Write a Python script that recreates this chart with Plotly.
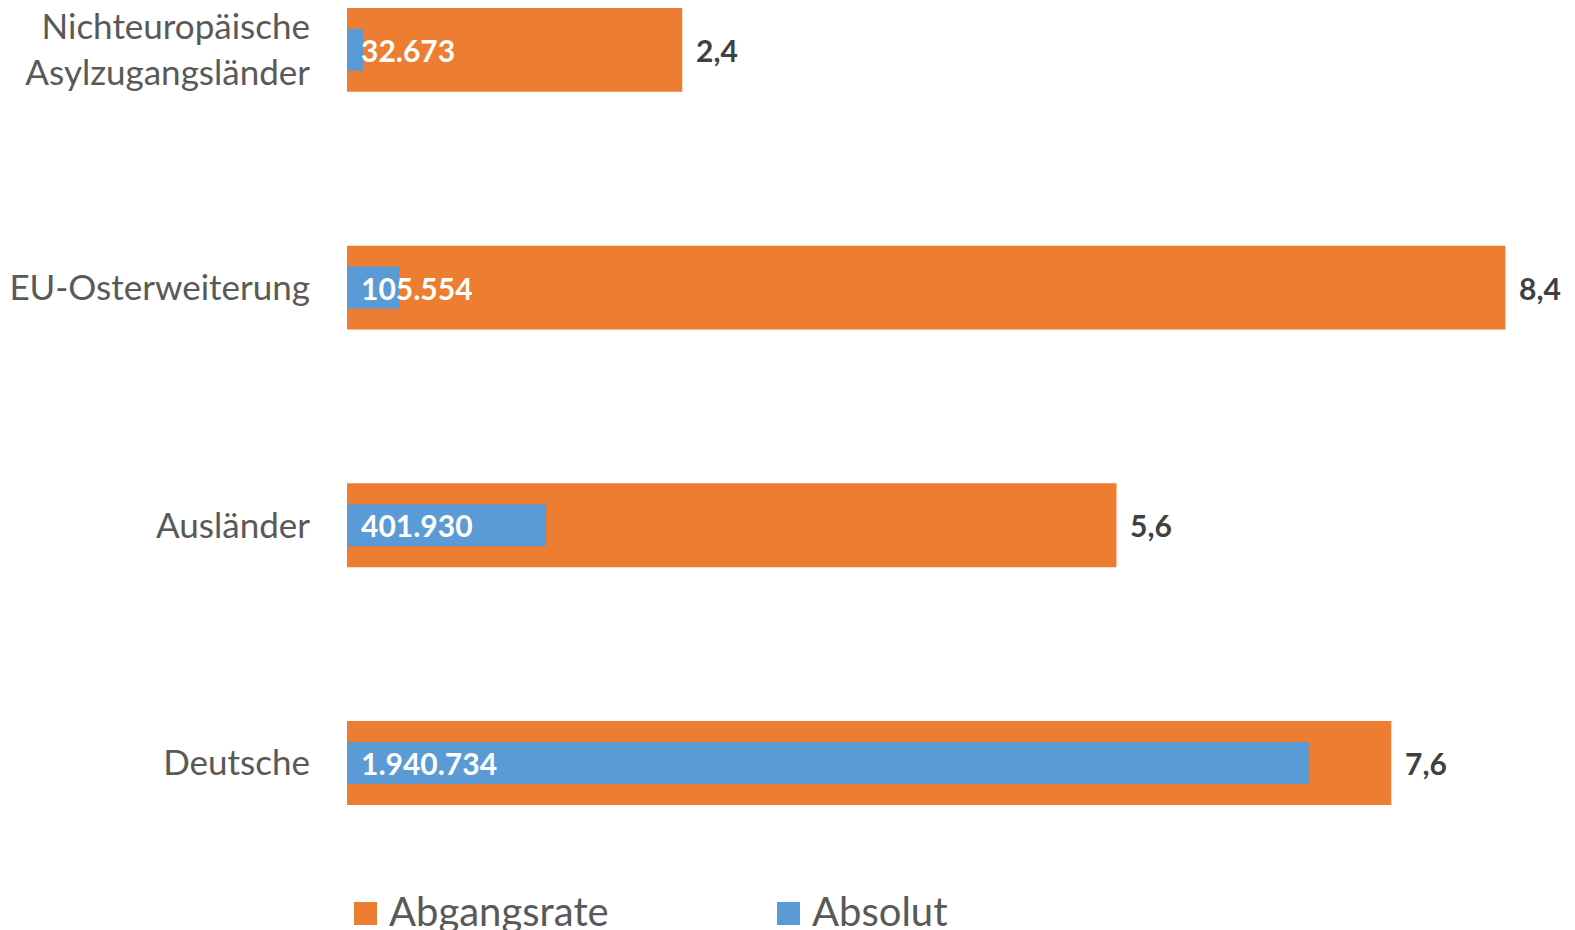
import plotly.graph_objects as go

categories = ["Deutsche", "Ausländer", "EU-Osterweiterung", "Nichteuropäische<br>Asylzugangsländer"]
abgangsrate = [7.6, 5.6, 8.43, 2.44]
absolut = [1940734, 401930, 105554, 32673]
series_names = ["Abgangsrate", "Absolut"]

ORANGE = "#ED7D31"
BLUE = "#5B9BD5"
GREY = "#595959"
DARK = "#404040"
FONT = "Lato"

def de_int(v):
    return f"{v:,}".replace(",", ".")

def de_dec(v):
    return f"{v:.1f}".replace(".", ",")

fig = go.Figure()
fig.add_trace(go.Bar(
    y=categories, x=abgangsrate, orientation="h", name=series_names[0],
    marker=dict(color=ORANGE, line=dict(width=0)), width=0.353,
    xaxis="x", yaxis="y", hoverinfo="x+y",
))
fig.add_trace(go.Bar(
    y=categories, x=absolut, orientation="h", name=series_names[1],
    marker=dict(color=BLUE, line=dict(width=0)), width=0.177,
    xaxis="x2", yaxis="y", hoverinfo="x+y",
))

annotations = []
# Orange value labels outside the bar end
for c, v in zip(categories, abgangsrate):
    annotations.append(dict(
        x=v, y=c, xref="x", yref="y", text=f"<b>{de_dec(v)}</b>",
        showarrow=False, xanchor="left", xshift=12,
        font=dict(family=FONT, size=30, color=DARK),
    ))
# Blue value labels at the base of the bars
for c, v in zip(categories, absolut):
    annotations.append(dict(
        x=0, y=c, xref="x2", yref="y", text=f"<b>{de_int(v)}</b>",
        showarrow=False, xanchor="left", xshift=12,
        font=dict(family=FONT, size=30, color="white"),
    ))

# Legend (squares + text)
legend_items = [(series_names[0], ORANGE, 354), (series_names[1], BLUE, 777)]
shapes = []
PL, PW, PB = 347, 1228, 850
for name, col, px in legend_items:
    x0 = (px - PL) / PW
    x1 = (px + 23 - PL) / PW
    shapes.append(dict(type="rect", xref="paper", yref="paper",
                       x0=x0, x1=x1, y0=-(925 - PB) / PB, y1=-(902 - PB) / PB,
                       fillcolor=col, line=dict(width=0)))
    annotations.append(dict(
        x=(px + 33 - PL) / PW, y=-(911 - PB) / PB, xref="paper", yref="paper",
        text=name, showarrow=False, xanchor="left", yanchor="middle",
        font=dict(family=FONT, size=40, color=GREY),
    ))

fig.update_layout(
    width=1575, height=930,
    margin=dict(l=PL, r=1575 - PL - PW, t=0, b=930 - PB),
    paper_bgcolor="white", plot_bgcolor="white",
    barmode="overlay", showlegend=False,
    font=dict(family=FONT, color=GREY),
    xaxis=dict(range=[0, 8.937], visible=False, fixedrange=True),
    xaxis2=dict(range=[0, 2478000], visible=False, overlaying="x", side="top", fixedrange=True),
    yaxis=dict(
        range=[-0.366, 3.21], showgrid=False, zeroline=False, showline=False,
        ticks="", tickfont=dict(family=FONT, size=35, color=GREY),
        ticklabelstandoff=36, categoryorder="array", categoryarray=categories,
        automargin=False,
    ),
    annotations=annotations, shapes=shapes,
)

fig.write_html(
    "out.html",
    config={"displayModeBar": False},
    post_script="document.body.style.margin='0';document.body.style.overflow='hidden';",
)
